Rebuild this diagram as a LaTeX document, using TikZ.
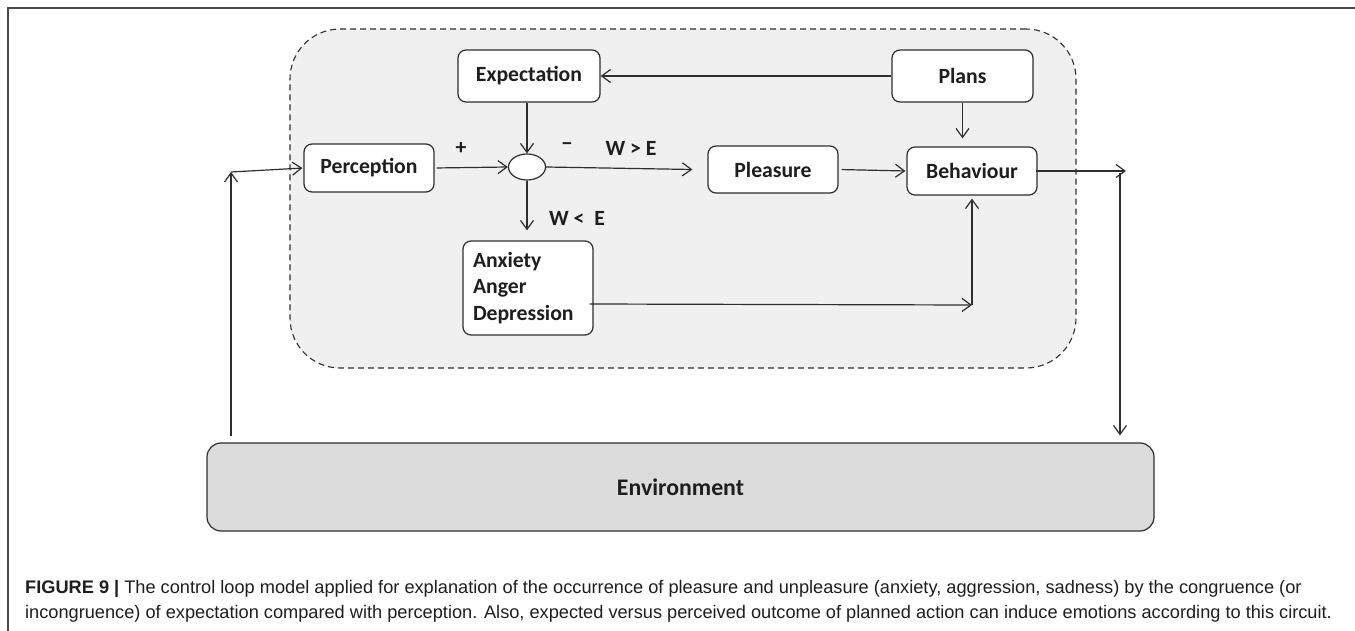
\documentclass[tikz,border=0pt]{standalone}
\usepackage{fontspec}
\setmainfont{Carlito}
\newfontfamily\capfont{Liberation Sans}
\usetikzlibrary{arrows.meta,shapes.geometric}

\definecolor{linec}{HTML}{2E2E2E}
\definecolor{textc}{HTML}{1E1E1E}
\definecolor{loopbg}{HTML}{F0F0F0}
\definecolor{envbg}{HTML}{DCDCDC}
\definecolor{framec}{HTML}{4A4A4A}

\tikzset{
  box/.style={draw=linec, fill=white, rounded corners=8pt, line width=1.2pt,
    font=\bfseries\fontsize{21.7}{26.5}\selectfont, text=textc,
    inner sep=0pt, minimum width=130pt, minimum height=48pt},
  arr/.style={draw=linec, line width=1.2pt, -{Straight Barb[length=9pt,width=13pt]}},
  lbl/.style={font=\bfseries\fontsize{21.7}{26}\selectfont, text=textc, inner sep=0pt},
  captext/.style={anchor=west, inner sep=0pt, text=textc,
    font=\capfont\fontsize{18.2}{22}\selectfont}
}

\begin{document}
\begin{tikzpicture}[x=1pt,y=-1pt]
\useasboundingbox (0,0) rectangle (1355,631);

% page frame
\draw[line width=1.6pt, draw=framec] (8,645) -- (8,8) -- (1370,8);

% control loop region
\node[draw=linec, fill=loopbg, line width=1.1pt, dash pattern=on 6pt off 4pt,
  rounded corners=50pt, minimum width=786pt, minimum height=339pt, inner sep=0pt]
  (loop) at (683,198.5) {};

% blocks
\node[box, minimum width=142pt, minimum height=52pt] (expect) at (529,76) {Expectation};
\node[box, minimum width=141pt, minimum height=52pt] (plans) at (962.5,76) {Plans};
\node[box] (percep) at (369,168) {Perception};
\node[box, minimum height=47pt] (pleas) at (773,169.5) {Pleasure};
\node[box] (behav) at (972,171) {Behaviour};
\node[box, minimum height=94pt, align=left, text width=110pt] (anx) at (528,288)
  {Anxiety\\Anger\\Depression};
\node[draw=linec, fill=white, line width=1.2pt, ellipse, inner sep=0pt,
  minimum width=37pt, minimum height=26pt] (cmp) at (527,167) {};

\node[draw=linec, fill=envbg, line width=1.2pt, rounded corners=14pt,
  minimum width=947pt, minimum height=88pt, inner sep=0pt,
  font=\bfseries\fontsize{23.8}{28}\selectfont, text=textc] (env) at (680.5,487) {Environment};

% signs and conditions
\node[lbl] (plus) at (461,148) {+};
\node[lbl] (minus) at (567,147) {\char"2212};
\node[lbl] (wgt) at (631,148) {W > E};
\node[lbl] (wlt) at (577,218) {W <\ \ E};

% connector corner points
\coordinate (pgap) at ([xshift=-15pt]pleas.west);
\coordinate (abend) at (behav.center |- 0,305);
\coordinate (outR) at (1126,171);
\coordinate (downR) at (1120,173);
\coordinate (upL) at (231,172);
\coordinate (baseL) at (231,436);

% connectors inside the loop
\draw[arr] (plans.west) -- (expect.east);
\draw[arr] (cmp.north |- expect.south) -- (cmp.north);
\draw[arr, shorten <=2pt] (percep.east) -- (cmp.west);
\draw[arr] (cmp.east) -- (pgap);
\draw[arr, shorten >=10pt] (cmp.south) -- (cmp.south |- anx.north);
\draw[arr, shorten <=3pt, shorten >=1pt] (pleas.east) -- (behav.west);
\draw[arr, shorten >=8pt] (plans.south) -- (plans.south |- behav.north);
\draw[arr] ([xshift=-4pt,yshift=-16pt]anx.east) -- (abend);
\draw[arr, shorten >=3pt] (abend) -- (behav.south);

% loop through the environment
\draw[arr] ([xshift=-2pt]behav.east) -- (outR);
\draw[arr, shorten >=7pt] (downR) -- (downR |- env.north);
\draw[arr] (baseL) -- (upL);
\draw[arr, shorten >=1pt] (upL) -- (percep.west);

% caption
\node[captext] (cap1) at (25,589)
  {\textbf{FIGURE 9 |} The control loop model applied for explanation of the occurrence of pleasure and unpleasure (anxiety, aggression, sadness) by the congruence (or};
\node[captext] (cap2) at (25,614)
  {incongruence) of expectation compared with perception. Also, expected versus perceived outcome of planned action can induce emotions according to this circuit.};
\end{tikzpicture}
\end{document}
